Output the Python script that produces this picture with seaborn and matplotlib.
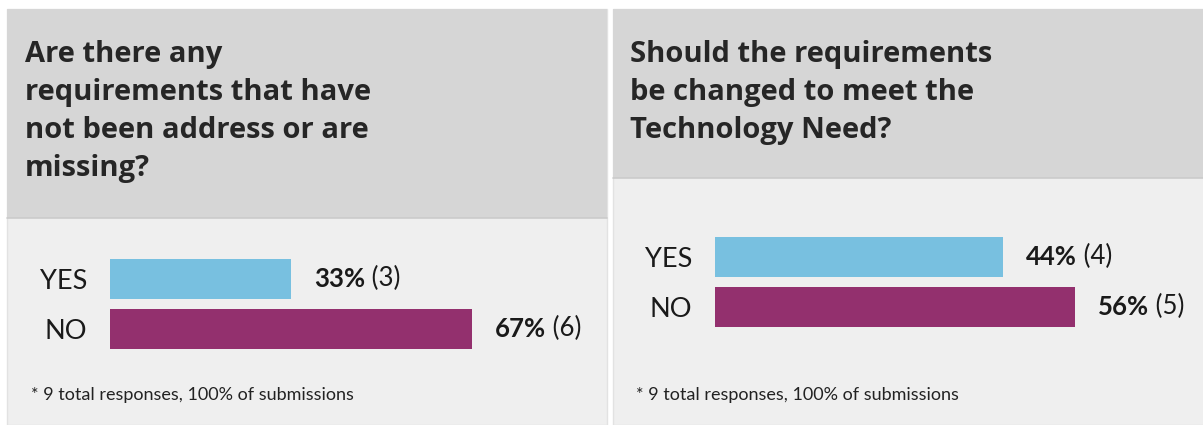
import matplotlib
matplotlib.use("Agg")
import matplotlib.pyplot as plt
import seaborn as sns
from matplotlib.patches import Rectangle

# ---- data ----
answers = ["YES", "NO"]
q1_title = ["Are there any", "requirements that have", "not been address or are", "missing?"]
q1_counts = [3, 6]
q1_pct = [33, 67]
q2_title = ["Should the requirements", "be changed to meet the", "Technology Need?"]
q2_counts = [4, 5]
q2_pct = [44, 56]
footnote = "* 9 total responses, 100% of submissions"

bar_colors = ["#78C0E0", "#93306E"]
W, H = 1203, 425

sns.set_theme(style="white")
plt.rcParams["font.family"] = ["Lato", "DejaVu Sans"]

fig = plt.figure(figsize=(W / 100, H / 100), dpi=100)
fig.patch.set_facecolor("white")

# background axes in pixel coordinates
bg = fig.add_axes([0, 0, 1, 1])
bg.set_xlim(0, W)
bg.set_ylim(H, 0)
bg.axis("off")

def panel(x0, x1, header_bottom):
    bg.add_patch(Rectangle((x0, 9), x1 - x0, H - 9, facecolor="#EFEFEF", edgecolor="#E2E2E2", lw=1))
    bg.add_patch(Rectangle((x0, 9), x1 - x0, header_bottom - 9, facecolor="#D6D6D6", edgecolor="none"))
    bg.plot([x0, x1], [header_bottom, header_bottom], color="#CBCBCB", lw=1.2)

panel(7, 607, 218)
panel(613, 1210, 178)

def titles(x, lines):
    for i, line in enumerate(lines):
        bg.text(x, 62 + 38 * i, line, fontsize=21, fontweight="bold", color="#262626",
                va="baseline", ha="left", family=["Open Sans", "DejaVu Sans"])

titles(25, q1_title)
titles(630, q2_title)

bg.text(31, 400, footnote, fontsize=13, color="#222222", va="baseline", ha="left")
bg.text(636, 400, footnote, fontsize=13, color="#222222", va="baseline", ha="left")

def bar_axes(left_px, top_px, px_per_count, counts, pcts, width_px=420):
    ax = fig.add_axes([left_px / W, 1 - (top_px + 100) / H, width_px / W, 100 / H])
    sns.barplot(x=counts, y=answers, hue=answers, palette=bar_colors, orient="h",
                legend=False, width=0.8, linewidth=0, saturation=1, ax=ax)
    ax.set_xlim(0, width_px / px_per_count)
    ax.set_ylim(1.5, -0.5)
    ax.patch.set_alpha(0)
    for s in ax.spines.values():
        s.set_visible(False)
    ax.set_xticks([])
    ax.set_xlabel("")
    ax.set_ylabel("")
    ax.tick_params(axis="y", length=0, pad=16.5, labelsize=19.5, labelcolor="#1A1A1A")
    for i, (c, p) in enumerate(zip(counts, pcts)):
        t1 = ax.annotate(f"{p}%", xy=(c, i), xytext=(23 * 0.72, 0), textcoords="offset points",
                         fontsize=18.5, fontweight="bold", color="#1A1A1A", ha="left", va="center")
        ax.annotate(f" ({c})", xy=(1, 0), xycoords=t1, fontsize=18.5, color="#1A1A1A",
                    ha="left", va="bottom")
    return ax

bar_axes(110, 254, 60.3, q1_counts, q1_pct)
bar_axes(715, 232, 72.0, q2_counts, q2_pct)

fig.savefig("out.png", dpi=100, facecolor="white")
